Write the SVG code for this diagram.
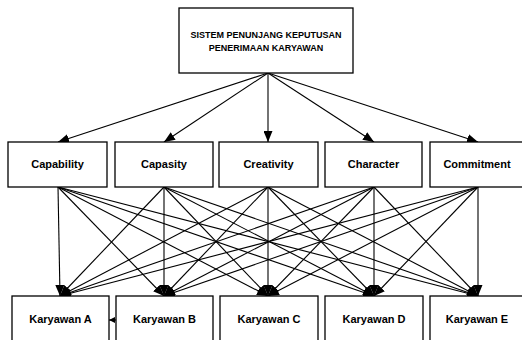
<svg xmlns="http://www.w3.org/2000/svg" width="522" height="340" viewBox="0 0 522 340">
<style>
.box{fill:#fff;stroke:#000;stroke-width:1.3}
.t{font-family:"Liberation Sans",Arial,sans-serif;font-weight:bold;font-size:11px;text-anchor:middle;fill:#000}
.tt{font-family:"Liberation Sans",Arial,sans-serif;font-weight:bold;font-size:9px;text-anchor:middle;fill:#000}
.c line{stroke:#000;stroke-width:1.1;marker-end:url(#ah)}
</style>
<defs>
<marker id="ah" markerUnits="userSpaceOnUse" markerWidth="11" markerHeight="9" refX="11" refY="4.5" orient="auto">
<path d="M0,0 L11,4.5 L0,9 Z" fill="#000"/>
</marker>
<marker id="ahs" markerUnits="userSpaceOnUse" markerWidth="6" markerHeight="6" refX="6" refY="3" orient="auto">
<path d="M0,0 L6,3 L0,6 Z" fill="#000"/>
</marker>
</defs>
<rect width="522" height="340" fill="#fff"/>
<g id="connectors" class="c">
<line x1="268" y1="73" x2="58" y2="142"/>
<line x1="268" y1="73" x2="164" y2="142"/>
<line x1="268" y1="73" x2="268" y2="142"/>
<line x1="268" y1="73" x2="374" y2="142"/>
<line x1="268" y1="73" x2="478" y2="142"/>
<line x1="58" y1="187" x2="60" y2="296"/>
<line x1="58" y1="187" x2="164" y2="296"/>
<line x1="58" y1="187" x2="268" y2="296"/>
<line x1="58" y1="187" x2="374" y2="296"/>
<line x1="58" y1="187" x2="478" y2="296"/>
<line x1="164" y1="187" x2="60" y2="296"/>
<line x1="164" y1="187" x2="164" y2="296"/>
<line x1="164" y1="187" x2="268" y2="296"/>
<line x1="164" y1="187" x2="374" y2="296"/>
<line x1="164" y1="187" x2="478" y2="296"/>
<line x1="268" y1="187" x2="60" y2="296"/>
<line x1="268" y1="187" x2="164" y2="296"/>
<line x1="268" y1="187" x2="268" y2="296"/>
<line x1="268" y1="187" x2="374" y2="296"/>
<line x1="268" y1="187" x2="478" y2="296"/>
<line x1="374" y1="187" x2="60" y2="296"/>
<line x1="374" y1="187" x2="164" y2="296"/>
<line x1="374" y1="187" x2="268" y2="296"/>
<line x1="374" y1="187" x2="374" y2="296"/>
<line x1="374" y1="187" x2="478" y2="296"/>
<line x1="478" y1="187" x2="60" y2="296"/>
<line x1="478" y1="187" x2="164" y2="296"/>
<line x1="478" y1="187" x2="268" y2="296"/>
<line x1="478" y1="187" x2="374" y2="296"/>
<line x1="478" y1="187" x2="478" y2="296"/>
<line x1="116" y1="320" x2="109" y2="320" style="marker-end:url(#ahs)"/>
</g>
<g id="top"><rect class="box" x="179" y="8" width="174" height="65"/>
<text class="tt" x="266" y="37.5">SISTEM PENUNJANG KEPUTUSAN</text>
<text class="tt" x="266" y="50.5">PENERIMAAN KARYAWAN</text></g>
<g id="capability"><rect class="box" x="8" y="142" width="99" height="45"/><text class="t" x="57.5" y="168">Capability</text></g>
<g id="capasity"><rect class="box" x="115" y="142" width="98" height="45"/><text class="t" x="164" y="168">Capasity</text></g>
<g id="creativity"><rect class="box" x="219" y="142" width="99" height="45"/><text class="t" x="268.5" y="168">Creativity</text></g>
<g id="character"><rect class="box" x="325" y="142" width="97" height="45"/><text class="t" x="373.5" y="168">Character</text></g>
<g id="commitment"><rect class="box" x="430" y="142" width="96" height="45"/><text class="t" x="477" y="168">Commitment</text></g>
<g id="karyawanA"><rect class="box" x="12" y="296" width="97" height="46"/><text class="t" x="60.5" y="323">Karyawan A</text></g>
<g id="karyawanB"><rect class="box" x="116" y="296" width="97" height="46"/><text class="t" x="164.5" y="323">Karyawan B</text></g>
<g id="karyawanC"><rect class="box" x="220" y="296" width="98" height="46"/><text class="t" x="269" y="323">Karyawan C</text></g>
<g id="karyawanD"><rect class="box" x="325" y="296" width="98" height="46"/><text class="t" x="374" y="323">Karyawan D</text></g>
<g id="karyawanE"><rect class="box" x="430" y="296" width="96" height="46"/><text class="t" x="477" y="323">Karyawan E</text></g>
</svg>
